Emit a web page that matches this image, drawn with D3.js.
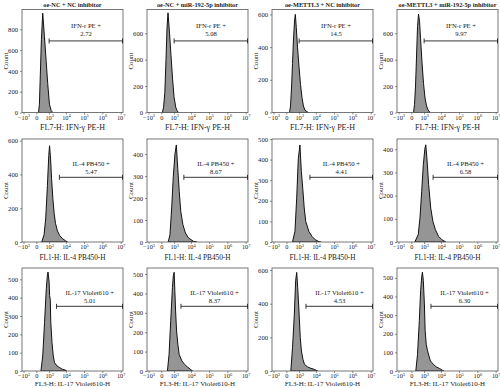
<!DOCTYPE html>
<html><head><meta charset="utf-8">
<script src="https://cdn.jsdelivr.net/npm/d3@7"></script>
<style>body{margin:0;background:#fff}svg{display:block}</style>
</head><body><svg id="c" width="500" height="388"></svg>
<script>
// ---------- data ----------
const colTitles = ["oe-NC + NC inhibitor", "oe-NC + miR-192-5p inhibitor", "oe-METTL3 + NC inhibitor", "oe-METTL3 + miR-192-5p inhibitor"];
const rowAxisTitles = ["FL7-H: IFN-γ PE-H", "FL1-H: IL-4 PB450-H", "FL3-H: IL-17 Violet610-H"];
const gateLabels = ["IFN-r PE +", "IL-4 PB450 +", "IL-17 Violet610 +"];
const gateValues = [["2.72", "5.08", "14.5", "9.97"], ["5.47", "8.67", "4.41", "6.58"], ["5.01", "8.37", "4.53", "6.30"]];
const gateStart = [[1000, 1000, 1000, 1000], [4300, 4000, 4600, 3600], [2900, 2700, 2700, 2700]];
const yMax = [[990, 780, 630, 780], [610, 469, 500, 444], [562, 531, 612, 553]];
const yStep = [[200, 200, 200, 200], [200, 100, 100, 100], [100, 100, 200, 100]];
const xTickValues = [-1000, 0, 1e3, 1e4, 1e5, 1e6, 1e7];
const xTickBase = ["−10", "0", "10", "10", "10", "10", "10"];
const xTickExp = ["3", "", "3", "4", "5", "6", "7"];

// histogram fluorescence values (x) and counts, one pair per panel
const histX = [
  [ [80,119,153,223,309,443,606,795,1047,1353,1710],
    [36,82,138,201,262,330,452,596,770,982,1277,1547,1890],
    [124,174,231,295,368,452,527,625,770,982,1240,1547,1890,2330,3100,3800],
    [80,124,174,231,295,368,452,546,708,908,1148,1440,1790,2390] ],
  [ [242,412,565,760,945,1070,1250,1450,1745,2100,2530,3280,4410,6400,9300,12500],
    [345,490,670,880,1134,1400,1720,2120,2620,3510,4910,7460,13970,21200],
    [295,490,670,880,1134,1400,1720,2120,2620,3980,6050,9200,13970,18740],
    [138,345,490,670,880,1134,1285,1520,1954,2620,3510,4910,7460,11350,18740] ],
  [ [196,310,452,625,750,837,1000,1075,1197,1286,1540,1848,2210,3160,4530,6490,9290,11100],
    [289,412,565,760,880,1000,1118,1250,1450,1745,2100,3050,4410,6400,9290,12500],
    [191,295,435,555,670,795,1000,1190,1416,1757,2185,3375,5210,8050,12420],
    [191,295,435,555,670,760,880,1040,1172,1374,1675,2043,2493,3710,5510,8200,12190,14860] ]
];
const histCount = [
  [ [0,80,300,700,955,730,500,280,80,20,0],
    [0,40,150,400,640,755,600,430,260,120,40,15,0],
    [0,40,150,300,450,560,600,520,400,280,170,90,40,15,5,0],
    [0,60,200,420,650,745,690,560,380,220,110,50,20,0] ],
  [ [0,43,141,336,512,570,492,375,258,170,111,66,39,20,8,0],
    [0,33,155,300,400,442,336,230,140,79,41,18,3,0],
    [0,52,213,406,471,342,261,165,100,52,27,11,3,0],
    [0,32,103,218,333,404,419,361,247,146,89,53,24,10,0] ],
  [ [0,82,264,449,520,540,485,412,390,266,156,82,46,27,18,9,5,0],
    [0,86,259,431,491,509,414,310,207,138,86,52,34,21,9,0],
    [0,139,338,536,586,497,338,199,119,70,40,24,16,10,0],
    [0,90,270,432,504,531,486,360,216,144,108,81,54,36,22,14,4,0] ]
];

// ---------- layout ----------
const svg = d3.select("#c");
const font = "Liberation Serif, Times New Roman, serif";
const boxLeft = [22, 147, 272, 397], boxTop = [9.5, 139, 268];
const W = 101, H = 103;
const titleSize = [8, 7.3, 7], titleOffset = [17, 18, 14.8];

for (let r = 0; r < 3; r++) {
  for (let c = 0; c < 4; c++) {
    const g = svg.append("g").attr("transform", `translate(${boxLeft[c]},${boxTop[r]})`);
    const x = d3.scaleSymlog().constant(250).domain([-1260, 1.34e7]).range([0, W]);
    const y = d3.scaleLinear().domain([0, yMax[r][c]]).range([H, 0]);
    const id = `clip${r}${c}`;
    g.append("clipPath").attr("id", id).append("rect").attr("width", W).attr("height", H);

    const pts = histX[r][c].map((v, i) => [v, histCount[r][c][i]]);
    g.append("path").datum(pts).attr("clip-path", `url(#${id})`)
      .attr("d", d3.area().x(d => x(d[0])).y0(H).y1(d => y(d[1])))
      .attr("fill", "#959595").attr("stroke", "#111").attr("stroke-width", 1);

    // frame
    g.append("rect").attr("width", W).attr("height", H).attr("fill", "none")
      .attr("stroke", "#555").attr("stroke-width", 0.8);

    // y axis
    const yt = d3.range(0, yMax[r][c] + 0.1, yStep[r][c]).filter(v => v <= yMax[r][c]);
    const ya = g.append("g").call(d3.axisLeft(y).tickValues(yt).tickSize(2).tickPadding(2).tickFormat(d3.format("d")));
    ya.select(".domain").remove();
    ya.selectAll("line").attr("stroke", "#444").attr("stroke-width", 0.6);
    ya.selectAll("text").attr("font-family", font).attr("font-size", 6.6).attr("fill", "#222");

    // x axis
    const xa = g.append("g").attr("transform", `translate(0,${H})`)
      .call(d3.axisBottom(x).tickValues(xTickValues).tickSize(2).tickPadding(1).tickFormat(() => ""));
    xa.select(".domain").remove();
    xa.selectAll("line").attr("stroke", "#444").attr("stroke-width", 0.6);
    xa.selectAll(".tick").each(function (d, i) {
      const t = d3.select(this).select("text").attr("font-family", font).attr("font-size", 6.3).attr("fill", "#222");
      t.text(null);
      t.append("tspan").text(xTickBase[i]);
      if (xTickExp[i]) t.append("tspan").attr("dy", -2.5).attr("font-size", 4.4).text(xTickExp[i]);
    });

    // Count label
    g.append("text").attr("transform", `translate(${-14.5},${H / 2}) rotate(-90)`)
      .attr("text-anchor", "middle").attr("font-family", font).attr("font-size", 7).attr("fill", "#222").text("Count");

    // x-axis title
    g.append("text").attr("x", W / 2).attr("y", H + titleOffset[r]).attr("text-anchor", "middle")
      .attr("font-family", font).attr("font-size", titleSize[r]).attr("fill", "#222").text(rowAxisTitles[r]);

    // gate
    const gy = H * (r === 0 ? 0.305 : 0.372);
    const gx0 = x(gateStart[r][c]), gx1 = W;
    const gg = g.append("g").attr("stroke", "#222").attr("stroke-width", 0.9);
    gg.append("line").attr("x1", gx0).attr("x2", gx1).attr("y1", gy).attr("y2", gy);
    gg.append("line").attr("x1", gx0).attr("x2", gx0).attr("y1", gy - 2.5).attr("y2", gy + 2.5);
    gg.append("line").attr("x1", gx1 - 0.5).attr("x2", gx1 - 0.5).attr("y1", gy - 2.5).attr("y2", gy + 2.5);
    const cx = (gx0 + gx1) / 2;
    g.append("text").attr("x", cx).attr("y", gy - (r === 0 ? 13 : 11)).attr("text-anchor", "middle")
      .attr("font-family", font).attr("font-size", 6.7).attr("fill", "#222").text(gateLabels[r]);
    g.append("text").attr("x", cx).attr("y", gy - (r === 0 ? 5 : 3)).attr("text-anchor", "middle")
      .attr("font-family", font).attr("font-size", 6.7).attr("fill", "#222").text(gateValues[r][c]);

    if (r === 0) {
      g.append("text").attr("x", W / 2).attr("y", -3).attr("text-anchor", "middle")
        .attr("font-family", font).attr("font-weight", "bold").attr("font-size", 6.3).attr("fill", "#222").text(colTitles[c]);
    }
  }
}
</script></body></html>
